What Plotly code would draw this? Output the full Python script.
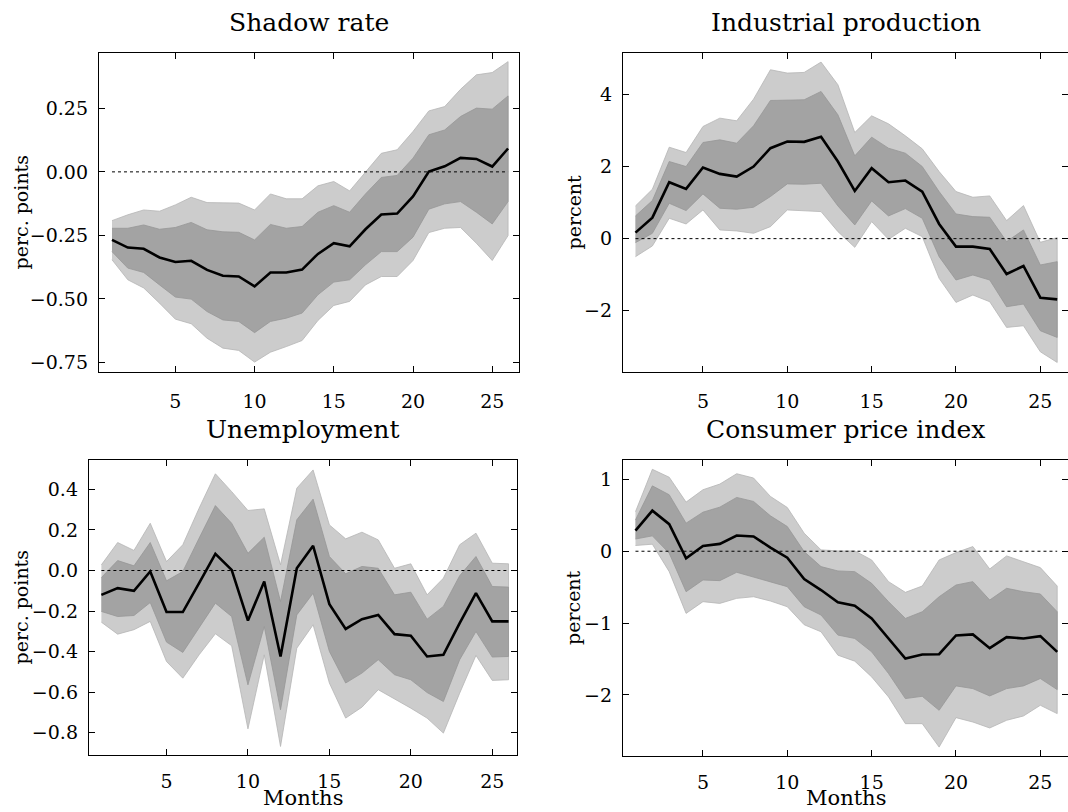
import plotly.graph_objects as go

months = list(range(1, 27))

# Shadow rate
sr_med = [-0.268, -0.298, -0.303, -0.337, -0.355, -0.350, -0.386, -0.409, -0.412, -0.451, -0.396, -0.396, -0.385,
          -0.323, -0.281, -0.293, -0.226, -0.168, -0.164, -0.097, 0.001, 0.022, 0.055, 0.051, 0.021, 0.092]
sr_hi68 = [-0.222, -0.222, -0.209, -0.226, -0.219, -0.199, -0.228, -0.236, -0.238, -0.268, -0.207, -0.222, -0.215,
           -0.159, -0.133, -0.159, -0.087, -0.022, -0.014, 0.054, 0.146, 0.165, 0.218, 0.251, 0.247, 0.299]
sr_lo68 = [-0.314, -0.379, -0.396, -0.445, -0.493, -0.501, -0.550, -0.583, -0.589, -0.633, -0.589, -0.576, -0.556,
           -0.484, -0.434, -0.425, -0.366, -0.314, -0.314, -0.257, -0.147, -0.126, -0.117, -0.159, -0.205, -0.117]
sr_hi90 = [-0.192, -0.169, -0.150, -0.155, -0.130, -0.100, -0.121, -0.123, -0.123, -0.150, -0.087, -0.106, -0.106,
           -0.055, -0.038, -0.075, -0.003, 0.073, 0.087, 0.159, 0.240, 0.257, 0.325, 0.382, 0.391, 0.434]
sr_lo90 = [-0.346, -0.425, -0.457, -0.517, -0.580, -0.598, -0.655, -0.694, -0.703, -0.749, -0.710, -0.688, -0.664,
           -0.585, -0.526, -0.510, -0.445, -0.412, -0.412, -0.349, -0.239, -0.222, -0.219, -0.281, -0.349, -0.251]

# Industrial production
ip_med = [0.167, 0.583, 1.565, 1.380, 1.972, 1.796, 1.722, 2.000, 2.509, 2.694, 2.685, 2.824, 2.139,
          1.324, 1.954, 1.565, 1.611, 1.306, 0.407, -0.222, -0.222, -0.287, -0.981, -0.759, -1.639, -1.685]
ip_hi68 = [0.630, 1.056, 2.139, 2.000, 2.667, 2.741, 2.648, 3.130, 3.833, 3.852, 3.852, 4.083, 3.435,
           2.296, 2.815, 2.509, 2.370, 2.000, 1.306, 0.685, 0.611, 0.593, -0.083, 0.241, -0.731, -0.639]
ip_lo68 = [-0.111, 0.148, 0.981, 0.778, 1.241, 0.843, 0.815, 0.870, 1.167, 1.519, 1.509, 1.537, 0.907,
           0.380, 1.046, 0.630, 0.833, 0.565, -0.500, -1.148, -1.009, -1.148, -1.889, -1.815, -2.556, -2.741]
ip_hi90 = [0.907, 1.370, 2.537, 2.389, 3.111, 3.343, 3.269, 3.870, 4.685, 4.593, 4.611, 4.898, 4.269,
           2.944, 3.407, 3.185, 2.852, 2.491, 1.861, 1.306, 1.148, 1.185, 0.500, 0.917, -0.102, 0.028]
ip_lo90 = [-0.500, -0.204, 0.565, 0.407, 0.796, 0.241, 0.213, 0.148, 0.333, 0.796, 0.769, 0.750, 0.194,
           -0.241, 0.472, -0.019, 0.287, 0.056, -1.102, -1.769, -1.565, -1.750, -2.463, -2.417, -3.139, -3.435]

# Unemployment
un_med = [-0.120, -0.087, -0.100, -0.005, -0.205, -0.205, -0.062, 0.082, 0.003, -0.247, -0.054, -0.424, 0.011,
          0.122, -0.166, -0.288, -0.240, -0.219, -0.314, -0.322, -0.424, -0.416, -0.260, -0.112, -0.251, -0.251]
un_hi68 = [-0.035, 0.049, 0.023, 0.138, -0.051, -0.005, 0.159, 0.320, 0.233, 0.085, 0.164, -0.153, 0.250,
           0.352, 0.069, -0.016, 0.020, 0.011, -0.120, -0.107, -0.240, -0.177, -0.026, 0.069, -0.079, -0.082]
un_lo68 = [-0.202, -0.227, -0.222, -0.158, -0.353, -0.404, -0.284, -0.161, -0.227, -0.564, -0.276, -0.687, -0.219,
           -0.112, -0.399, -0.555, -0.506, -0.440, -0.514, -0.539, -0.602, -0.646, -0.440, -0.301, -0.427, -0.424]
un_hi90 = [0.028, 0.138, 0.099, 0.233, 0.044, 0.127, 0.307, 0.477, 0.389, 0.296, 0.304, 0.028, 0.406,
           0.496, 0.225, 0.156, 0.189, 0.151, 0.011, 0.033, -0.120, -0.038, 0.127, 0.184, 0.036, 0.033]
un_lo90 = [-0.255, -0.314, -0.292, -0.251, -0.449, -0.531, -0.416, -0.312, -0.371, -0.781, -0.416, -0.868, -0.383,
           -0.268, -0.555, -0.728, -0.674, -0.588, -0.634, -0.679, -0.728, -0.802, -0.605, -0.419, -0.542, -0.539]

# Consumer price index
cpi_med = [0.287, 0.565, 0.377, -0.098, 0.074, 0.102, 0.219, 0.205, 0.051, -0.090, -0.386, -0.540, -0.712,
           -0.758, -0.935, -1.214, -1.493, -1.437, -1.433, -1.172, -1.158, -1.349, -1.195, -1.214, -1.181, -1.400]
cpi_hi68 = [0.436, 0.910, 0.786, 0.391, 0.544, 0.614, 0.749, 0.693, 0.493, 0.344, -0.005, -0.214, -0.274,
            -0.284, -0.447, -0.702, -0.935, -0.842, -0.633, -0.470, -0.423, -0.679, -0.516, -0.563, -0.595, -0.842]
cpi_lo68 = [0.170, 0.214, -0.028, -0.563, -0.400, -0.409, -0.293, -0.353, -0.423, -0.493, -0.772, -0.888, -1.167,
            -1.214, -1.400, -1.702, -2.051, -2.019, -2.214, -1.874, -1.912, -2.014, -1.912, -1.874, -1.772, -1.926]
cpi_hi90 = [0.550, 1.140, 1.030, 0.684, 0.856, 0.935, 1.079, 1.019, 0.763, 0.609, 0.251, 0.019, 0.005,
            0.005, -0.121, -0.423, -0.572, -0.484, -0.121, -0.019, 0.065, -0.247, -0.065, -0.144, -0.228, -0.484]
cpi_lo90 = [0.080, 0.098, -0.284, -0.865, -0.702, -0.726, -0.656, -0.633, -0.693, -0.772, -1.023, -1.121, -1.447,
            -1.530, -1.749, -2.028, -2.400, -2.400, -2.726, -2.316, -2.377, -2.460, -2.353, -2.293, -2.144, -2.260]

titles = ["Shadow rate", "Industrial production", "Unemployment", "Consumer price index"]
ylabels = ["perc. points", "percent", "perc. points", "percent"]

panels = [
    (sr_med, sr_hi68, sr_lo68, sr_hi90, sr_lo90),
    (ip_med, ip_hi68, ip_lo68, ip_hi90, ip_lo90),
    (un_med, un_hi68, un_lo68, un_hi90, un_lo90),
    (cpi_med, cpi_hi68, cpi_lo68, cpi_hi90, cpi_lo90),
]

W, H = 1068, 812
FONT = "DejaVu Serif"

# axes boxes in pixels: (left, right, top, bottom)
boxes = [(99, 519, 53, 372), (623, 1068, 53, 372), (89, 517, 460, 755), (623, 1068, 460, 756)]
xranges = [[0.18, 26.69], [0.26, 26.64], [0.24, 26.52], [0.26, 26.64]]
yranges = [[-0.788, 0.468], [-3.70, 5.15], [-0.91, 0.545], [-2.85, 1.27]]
yticks = [
    ([-0.75, -0.5, -0.25, 0, 0.25], ["\u22120.75", "\u22120.50", "\u22120.25", "0.00", "0.25"]),
    ([-2, 0, 2, 4], ["\u22122", "0", "2", "4"]),
    ([-0.8, -0.6, -0.4, -0.2, 0, 0.2, 0.4], ["\u22120.8", "\u22120.6", "\u22120.4", "\u22120.2", "0.0", "0.2", "0.4"]),
    ([-2, -1, 0, 1], ["\u22122", "\u22121", "0", "1"]),
]

LIGHT = "#cccccc"
DARK = "#a3a3a3"

fig = go.Figure()
for i, (med, hi68, lo68, hi90, lo90) in enumerate(panels):
    sfx = "" if i == 0 else str(i + 1)
    xa, ya = "x" + sfx, "y" + sfx
    fig.add_trace(go.Scatter(x=months + months[::-1], y=hi90 + lo90[::-1], fill="toself",
                             fillcolor=LIGHT, line=dict(color="#b5b5b5", width=0.8),
                             mode="lines", xaxis=xa, yaxis=ya, showlegend=False, hoverinfo="skip"))
    fig.add_trace(go.Scatter(x=months + months[::-1], y=hi68 + lo68[::-1], fill="toself",
                             fillcolor=DARK, line=dict(color="#979797", width=0.8),
                             mode="lines", xaxis=xa, yaxis=ya, showlegend=False, hoverinfo="skip"))
    fig.add_trace(go.Scatter(x=[months[0], months[-1]], y=[0, 0], mode="lines",
                             line=dict(color="black", width=1, dash="dot"),
                             xaxis=xa, yaxis=ya, showlegend=False, hoverinfo="skip"))
    fig.add_trace(go.Scatter(x=months, y=med, mode="lines", line=dict(color="black", width=2.6),
                             xaxis=xa, yaxis=ya, showlegend=False))

    l, r, t, b = boxes[i]
    common = dict(showline=True, linecolor="black", linewidth=1.4, mirror="ticks",
                  ticks="inside", ticklen=6, tickwidth=1.2, tickcolor="black",
                  showgrid=False, zeroline=False,
                  tickfont=dict(family=FONT, size=19, color="black"))
    fig.update_layout(**{
        "xaxis" + sfx: dict(domain=[l / W, min(r / W, 1.0)], range=xranges[i], anchor=ya,
                            tickvals=[5, 10, 15, 20, 25], ticklabelstandoff=12 if i < 2 else 9, **common),
        "yaxis" + sfx: dict(domain=[1 - b / H, 1 - t / H], range=yranges[i], anchor=xa,
                            tickvals=yticks[i][0], ticktext=yticks[i][1], ticklabelstandoff=6, **common),
    })
    cx = (l + r) / 2
    fig.add_annotation(text=titles[i], x=cx / W, y=1 - (t - 31) / H, xref="paper", yref="paper",
                       xanchor="center", yanchor="middle", showarrow=False,
                       font=dict(family=FONT, size=25, color="black"))
    ylx = 20 if i in (0, 2) else 573
    fig.add_annotation(text=ylabels[i], x=ylx / W, y=1 - ((t + b) / 2) / H, xref="paper", yref="paper",
                       xanchor="center", yanchor="middle", textangle=-90, showarrow=False,
                       font=dict(family=FONT, size=19, color="black"))
    if i >= 2:
        fig.add_annotation(text="Months", x=cx / W, y=0, xref="paper", yref="paper",
                           xanchor="center", yanchor="bottom", showarrow=False,
                           font=dict(family=FONT, size=21, color="black"))

fig.update_layout(width=W, height=H, margin=dict(l=0, r=0, t=0, b=0),
                  paper_bgcolor="white", plot_bgcolor="white",
                  font=dict(family=FONT, color="black"))

fig.write_html("out.html")
